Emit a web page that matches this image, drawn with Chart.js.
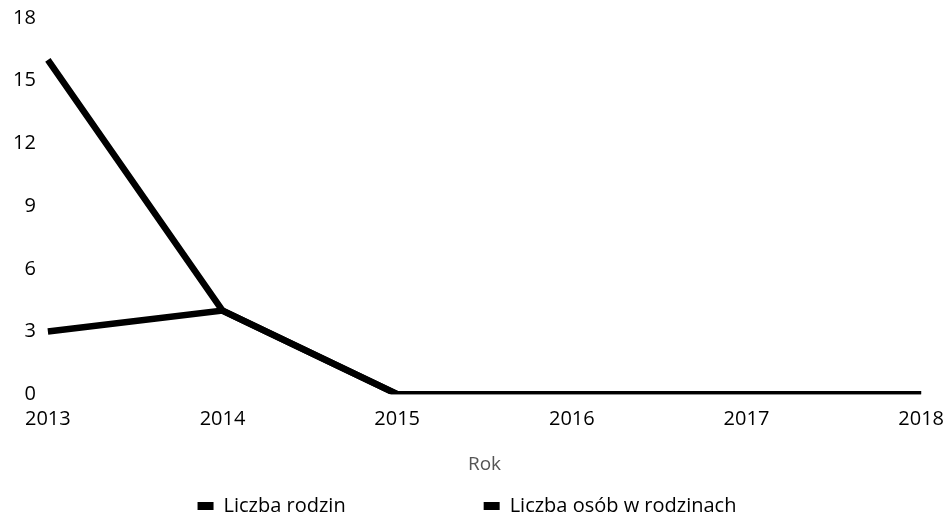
<!DOCTYPE html>
<html>
<head>
<meta charset="utf-8">
<script src="https://cdn.jsdelivr.net/npm/chart.js@4.4.1/dist/chart.umd.min.js"></script>
<style>
  html, body { margin: 0; padding: 0; background: #ffffff; }
  #wrap { width: 947px; height: 522px; }
</style>
</head>
<body>
<div id="wrap"><canvas id="c" width="947" height="522"></canvas></div>
<script>
const categories = ['2013', '2014', '2015', '2016', '2017', '2018'];
const liczbaRodzin = [3, 4, 0, 0, 0, 0];
const liczbaOsob = [16, 4, 0, 0, 0, 0];
const yTickValues = [0, 3, 6, 9, 12, 15, 18];
const seriesLabels = ['Liczba rodzin', 'Liczba osób w rodzinach'];
const xTitle = 'Rok';

const FONT = "'Open Sans', 'Noto Sans', sans-serif";
const LEGEND_GAP = 138;

const legendShift = {
  id: 'legendShift',
  afterLayout(chart) {
    const lg = chart.legend;
    if (lg) { lg.top -= LEGEND_GAP; }
  }
};

new Chart(document.getElementById('c'), {
  type: 'line',
  data: {
    labels: categories,
    datasets: [
      {
        label: seriesLabels[0],
        data: liczbaRodzin,
        borderColor: '#000000',
        backgroundColor: '#000000',
        borderWidth: 6.5,
        pointRadius: 0,
        tension: 0,
        fill: false
      },
      {
        label: seriesLabels[1],
        data: liczbaOsob,
        borderColor: '#000000',
        backgroundColor: '#000000',
        borderWidth: 6.5,
        pointRadius: 0,
        tension: 0,
        fill: false
      }
    ]
  },
  options: {
    responsive: false,
    animation: false,
    devicePixelRatio: 1,
    layout: { padding: { left: 1, right: 14, top: 18, bottom: 0 } },
    scales: {
      x: {
        type: 'category',
        offset: false,
        grid: { display: false, drawTicks: false },
        border: { display: false },
        ticks: {
          color: '#000000',
          font: { family: FONT, size: 20, lineHeight: 2.2 },
          padding: 3,
          maxRotation: 0,
          autoSkip: false
        },
        title: {
          display: true,
          text: xTitle,
          color: '#555555',
          font: { family: FONT, size: 19 },
          padding: { top: 9, bottom: 20 }
        }
      },
      y: {
        min: 0,
        max: 18,
        grid: { display: false, drawTicks: false },
        border: { display: false },
        afterBuildTicks(scale) {
          scale.ticks = yTickValues.map(v => ({ value: v }));
        },
        ticks: {
          color: '#000000',
          font: { family: FONT, size: 20, lineHeight: 0.5 },
          padding: 12
        }
      }
    },
    plugins: {
      legend: {
        display: true,
        position: 'bottom',
        maxHeight: 26,
        labels: {
          boxWidth: 16,
          boxHeight: 8,
          padding: LEGEND_GAP,
          color: '#000000',
          font: { family: FONT, size: 20 },
          generateLabels(chart) {
            const items = Chart.defaults.plugins.legend.labels.generateLabels(chart);
            return items.map(it => Object.assign(it, { lineWidth: 0, fillStyle: '#000000' }));
          }
        }
      },
      tooltip: { enabled: false },
      title: { display: false }
    }
  },
  plugins: [legendShift]
});
</script>
</body>
</html>
